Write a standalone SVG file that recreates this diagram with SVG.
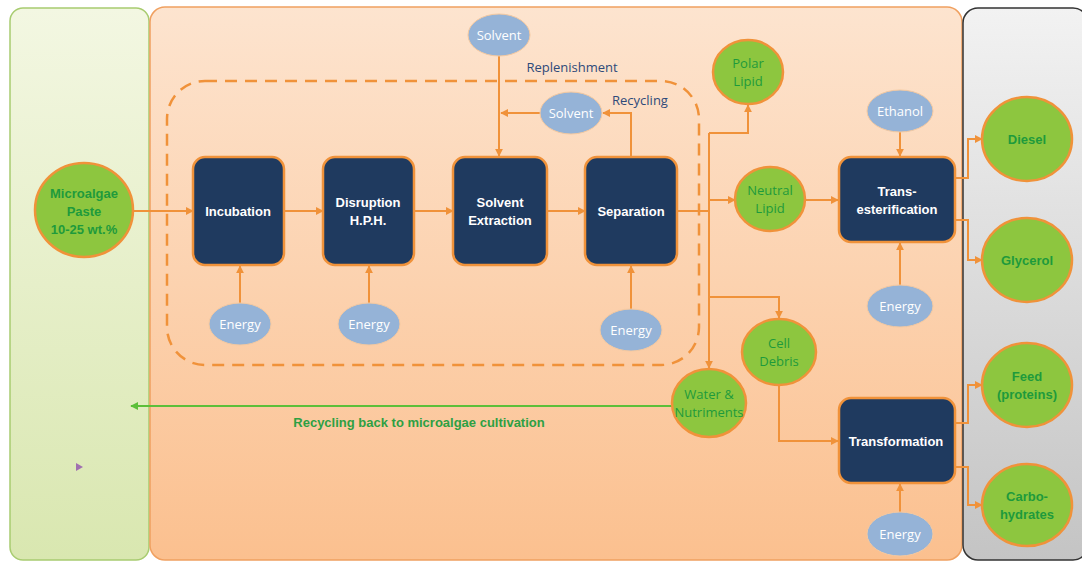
<svg xmlns="http://www.w3.org/2000/svg" width="1082" height="562" viewBox="0 0 1082 562">
<defs>
<linearGradient id="gGreen" x1="0" y1="0" x2="0" y2="1"><stop offset="0" stop-color="#f3f7e2"/><stop offset="1" stop-color="#d9e7b0"/></linearGradient>
<linearGradient id="gOrange" x1="0" y1="0" x2="0" y2="1"><stop offset="0" stop-color="#fde4cf"/><stop offset="1" stop-color="#fbc08f"/></linearGradient>
<linearGradient id="gGray" x1="0" y1="0" x2="0" y2="1"><stop offset="0" stop-color="#f2f2f2"/><stop offset="1" stop-color="#c4c4c4"/></linearGradient>
<marker id="ao" viewBox="0 0 10 10" refX="9" refY="5" markerWidth="8" markerHeight="8" orient="auto" markerUnits="userSpaceOnUse"><path d="M0,0 L10,5 L0,10 z" fill="#f0923a"/></marker>
<marker id="ag" viewBox="0 0 10 10" refX="9" refY="5" markerWidth="8" markerHeight="8" orient="auto" markerUnits="userSpaceOnUse"><path d="M0,0 L10,5 L0,10 z" fill="#5cbf3a"/></marker>
</defs>
<style>
.box{fill:#1f3a5f;stroke:#f0923a;stroke-width:2.5}
.prod{fill:#8dc63f;stroke:#f0923a;stroke-width:2.5}
.inp{fill:#95b3d7;stroke:#f5c9a0;stroke-width:1}
.bt{font-family:"Liberation Sans",Arial,sans-serif;font-size:13px;font-weight:bold;fill:#ffffff;text-anchor:middle}
.it{font-family:"Open Sans","Liberation Sans",sans-serif;font-size:13px;fill:#ffffff;text-anchor:middle}
.gt{font-family:"Open Sans","Liberation Sans",sans-serif;font-size:13px;fill:#1e9a3c;text-anchor:middle}
.gb{font-family:"Liberation Sans",Arial,sans-serif;font-size:13px;font-weight:bold;fill:#1e9a3c;text-anchor:middle}
.lbl{font-family:"Open Sans","Liberation Sans",sans-serif;font-size:13px;fill:#2e4a7a;text-anchor:middle}
.c{fill:none;stroke:#f0923a;stroke-width:2;marker-end:url(#ao)}
.cn{fill:none;stroke:#f0923a;stroke-width:2}
</style>
<g id="panels">
<rect x="10" y="8" width="139" height="552" rx="13" fill="url(#gGreen)" stroke="#a8cc70" stroke-width="1.5"/>
<rect x="150" y="7" width="812" height="553" rx="15" fill="url(#gOrange)" stroke="#f0a060" stroke-width="1.5"/>
<rect x="963" y="8" width="125" height="552" rx="15" fill="url(#gGray)" stroke="#333333" stroke-width="1.5"/>
<rect x="167" y="81" width="532" height="284" rx="38" fill="none" stroke="#f0923a" stroke-width="2.5" stroke-dasharray="12,8"/>
<path d="M76,463 L83,467 L76,471 z" fill="#a070b0"/>
</g>
<g id="connectors">
<line class="c" x1="133" y1="211" x2="193" y2="211"/>
<line class="c" x1="284" y1="211" x2="323" y2="211"/>
<line class="c" x1="414" y1="211" x2="453" y2="211"/>
<line class="c" x1="547" y1="211" x2="585" y2="211"/>
<line class="c" x1="240" y1="303" x2="240" y2="266"/>
<line class="c" x1="369" y1="303" x2="369" y2="266"/>
<line class="c" x1="631" y1="309" x2="631" y2="266"/>
<line class="c" x1="499" y1="56" x2="499" y2="156"/>
<polyline class="c" points="631,157 631,113 603,113"/>
<line class="c" x1="540" y1="113" x2="501" y2="113"/>
<polyline class="cn" points="677,211 709,211"/>
<line class="cn" x1="709" y1="133" x2="709" y2="300"/>
<polyline class="c" points="709,133 748,133 748,105"/>
<line class="c" x1="709" y1="200" x2="735" y2="200"/>
<line class="c" x1="709" y1="290" x2="709" y2="368"/>
<polyline class="c" points="709,297 779,297 779,318"/>
<line class="c" x1="805" y1="200" x2="838" y2="200"/>
<line class="c" x1="900" y1="132" x2="900" y2="156"/>
<line class="c" x1="900" y1="285" x2="900" y2="243"/>
<polyline class="c" points="955,178 968,178 968,139 982,139"/>
<polyline class="c" points="955,220 968,220 968,260 982,260"/>
<polyline class="c" points="779,386 779,441 838,441"/>
<line class="c" x1="900" y1="512" x2="900" y2="484"/>
<polyline class="c" points="955,423 968,423 968,385 982,385"/>
<polyline class="c" points="955,467 968,467 968,505 982,505"/>
<line x1="673" y1="406" x2="131" y2="406" stroke="#5cbf3a" stroke-width="2" marker-end="url(#ag)"/>
<text x="419" y="427" class="gb" style="fill:#2ea043">Recycling back to microalgae cultivation</text>
<text x="572" y="72" class="lbl">Replenishment</text>
<text x="640" y="105" class="lbl">Recycling</text>
</g>
<g id="microalgae"><ellipse class="prod" cx="84" cy="210" rx="49" ry="47"/><text class="gb" x="84" y="198">Microalgae</text><text class="gb" x="84" y="216">Paste</text><text class="gb" x="84" y="234">10-25 wt.%</text></g>
<g id="incubation"><rect class="box" x="193" y="157" width="91" height="108" rx="12"/><text class="bt" x="238" y="216">Incubation</text></g>
<g id="disruption"><rect class="box" x="323" y="157" width="91" height="108" rx="12"/><text class="bt" x="368" y="207">Disruption</text><text class="bt" x="368" y="225">H.P.H.</text></g>
<g id="extraction"><rect class="box" x="453" y="157" width="94" height="108" rx="12"/><text class="bt" x="500" y="207">Solvent</text><text class="bt" x="500" y="225">Extraction</text></g>
<g id="separation"><rect class="box" x="585" y="157" width="92" height="108" rx="12"/><text class="bt" x="631" y="216">Separation</text></g>
<g id="transesterification"><rect class="box" x="839" y="157" width="116" height="85" rx="12"/><text class="bt" x="897" y="196">Trans-</text><text class="bt" x="897" y="214">esterification</text></g>
<g id="transformation"><rect class="box" x="839" y="398" width="116" height="85" rx="12"/><text class="bt" x="896" y="446">Transformation</text></g>
<g id="energy1"><ellipse class="inp" cx="240" cy="324" rx="31" ry="21"/><text class="it" x="240" y="329">Energy</text></g>
<g id="energy2"><ellipse class="inp" cx="369" cy="324" rx="31" ry="21"/><text class="it" x="369" y="329">Energy</text></g>
<g id="energy3"><ellipse class="inp" cx="631" cy="330" rx="31" ry="21"/><text class="it" x="631" y="335">Energy</text></g>
<g id="energy4"><ellipse class="inp" cx="900" cy="306" rx="33" ry="21"/><text class="it" x="900" y="311">Energy</text></g>
<g id="energy5"><ellipse class="inp" cx="900" cy="534" rx="33" ry="22"/><text class="it" x="900" y="539">Energy</text></g>
<g id="ethanol"><ellipse class="inp" cx="900" cy="111" rx="33" ry="21"/><text class="it" x="900" y="116">Ethanol</text></g>
<g id="solvent1"><ellipse class="inp" cx="499" cy="35" rx="31" ry="21"/><text class="it" x="499" y="40">Solvent</text></g>
<g id="solvent2"><ellipse class="inp" cx="571" cy="113" rx="31" ry="21"/><text class="it" x="571" y="118">Solvent</text></g>
<g id="polarlipid"><ellipse class="prod" cx="748" cy="72" rx="35" ry="32"/><text class="gt" x="748" y="68">Polar</text><text class="gt" x="748" y="86">Lipid</text></g>
<g id="neutrallipid"><ellipse class="prod" cx="770" cy="199" rx="35" ry="32"/><text class="gt" x="770" y="195">Neutral</text><text class="gt" x="770" y="213">Lipid</text></g>
<g id="celldebris"><ellipse class="prod" cx="779" cy="352" rx="37" ry="33"/><text class="gt" x="779" y="348">Cell</text><text class="gt" x="779" y="366">Debris</text></g>
<g id="water"><ellipse class="prod" cx="709" cy="403" rx="37" ry="34"/><text class="gt" x="709" y="399">Water &amp;</text><text class="gt" x="709" y="417">Nutriments</text></g>
<g id="diesel"><ellipse class="prod" cx="1027" cy="139" rx="45" ry="42"/><text class="gb" x="1027" y="144">Diesel</text></g>
<g id="glycerol"><ellipse class="prod" cx="1027" cy="260" rx="45" ry="42"/><text class="gb" x="1027" y="265">Glycerol</text></g>
<g id="feed"><ellipse class="prod" cx="1027" cy="385" rx="45" ry="42"/><text class="gb" x="1027" y="381">Feed</text><text class="gb" x="1027" y="399">(proteins)</text></g>
<g id="carbohydrates"><ellipse class="prod" cx="1027" cy="505" rx="45" ry="41"/><text class="gb" x="1027" y="501">Carbo-</text><text class="gb" x="1027" y="519">hydrates</text></g>
</svg>
